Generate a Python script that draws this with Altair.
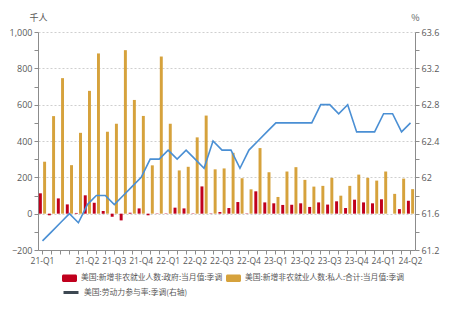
import altair as alt
import pandas as pd

# ---- data ----
months = [str(p) for p in pd.period_range("2020-11", "2024-04", freq="M")]  # 42 months

tick_months = ["2020-11", "2021-04", "2021-07", "2021-10", "2022-01", "2022-04", "2022-07",
               "2022-10", "2023-01", "2023-04", "2023-07", "2023-10", "2024-01", "2024-04"]
tick_labels = ["21-Q1", "21-Q2", "21-Q3", "21-Q4", "22-Q1", "22-Q2", "22-Q3",
               "22-Q4", "23-Q1", "23-Q2", "23-Q3", "23-Q4", "24-Q1", "24-Q2"]

gov = [112, -9, 84, 51, 4, 101, 60, 15, -17, -37, 5, 29, -9, -2, 2, 33, 29, 2, 150, 2, 9,
       31, 64, 2, 123, 62, 57, 48, 49, 57, 37, 62, 50, 68, 31, 77, 62, 57, 79, 0, 25, 71]
priv = [286, 537, 746, 267, 445, 676, 882, 451, 495, 900, 626, 538, 266, 865, 495, 238, 258,
        420, 540, 244, 249, 335, 195, 134, 361, 228, 92, 232, 256, 186, 149, 153, 197, 99,
        153, 215, 197, 182, 232, 109, 193, 135]
lfpr = [61.3, 61.4, 61.5, 61.6, 61.5, 61.7, 61.8, 61.8, 61.7, 61.8, 61.9, 62.0, 62.2, 62.2,
        62.3, 62.2, 62.3, 62.2, 62.1, 62.4, 62.3, 62.3, 62.1, 62.3, 62.4, 62.5, 62.6, 62.6,
        62.6, 62.6, 62.6, 62.8, 62.8, 62.7, 62.8, 62.5, 62.5, 62.5, 62.7, 62.7, 62.5, 62.6]

gov_name = "美国:新增非农就业人数:政府:当月值:季调"
priv_name = "美国:新增非农就业人数:私人:合计:当月值:季调"
line_name = "美国:劳动力参与率:季调(右轴)"

df_bar = pd.DataFrame({
    "month": months * 2,
    "series": [gov_name] * len(months) + [priv_name] * len(months),
    "value": gov + priv,
})
df_line = pd.DataFrame({"month": months, "rate": lfpr, "series": [line_name] * len(months)})

# ---- styling ----
TXT = "#595959"
AX = "#8c8c8c"
NUMFONT = "Open Sans"
CJK = "Noto Sans CJK SC"

lab_expr = (
    f"indexof({tick_months}, datum.value) >= 0 ? "
    f"{tick_labels}[indexof({tick_months}, datum.value)] : ''"
)

x_axis = alt.Axis(
    title=None, labelExpr=lab_expr, labelAngle=0, labelOverlap=False,
    labelFont=NUMFONT, labelFontSize=8.5, labelColor=TXT, labelPadding=2,
    tickSize=4, tickColor=AX, domainColor=AX, grid=False,
)
x_enc = alt.X("month:O", sort=months,
              scale=alt.Scale(domain=months, paddingInner=0.2, paddingOuter=0.1),
              axis=x_axis)

left_vals = list(range(-200, 1001, 100))
y_left_axis = alt.Axis(
    values=left_vals,
    labelExpr="datum.value % 200 == 0 ? format(datum.value, ',') : ''",
    grid=True, gridDash=[2, 2], gridColor="#cfcfcf",
    gridOpacity={"condition": {"test": "datum.value % 200 == 0", "value": 1}, "value": 0},
    domainColor=AX, tickColor=AX, tickSize=4,
    labelFont=NUMFONT, labelFontSize=9, labelColor=TXT, labelPadding=2,
    title="千人", titleAngle=0, titleX=0, titleY=-10, titleAlign="center",
    titleBaseline="bottom", titleFont=CJK, titleFontSize=9, titleFontWeight="normal",
    titleColor=TXT,
)

right_vals = [round(61.2 + 0.2 * i, 1) for i in range(13)]
y_right_axis = alt.Axis(
    orient="right", values=right_vals,
    labelExpr="abs((datum.value - 61.2) / 0.4 - round((datum.value - 61.2) / 0.4)) < 0.01 ? format(datum.value, '~g') : ''",
    grid=False, domainColor=AX, tickColor=AX, tickSize=4,
    labelFont=NUMFONT, labelFontSize=9, labelColor=TXT, labelPadding=2,
    title="%", titleAngle=0, titleX=0, titleY=-10, titleAlign="center",
    titleBaseline="bottom", titleFont=CJK, titleFontSize=9, titleFontWeight="normal",
    titleColor=TXT,
)

rect_path = ("M-0.8,-0.5 H0.8 A0.2,0.2 0 0 1 1,-0.3 V0.3 A0.2,0.2 0 0 1 0.8,0.5 "
             "H-0.8 A0.2,0.2 0 0 1 -1,0.3 V-0.3 A0.2,0.2 0 0 1 -0.8,-0.5 Z")

bars = alt.Chart(df_bar).mark_bar().encode(
    x=x_enc,
    xOffset=alt.XOffset("series:N", sort=[gov_name, priv_name],
                        scale=alt.Scale(domain=[gov_name, priv_name], paddingInner=0.3)),
    y=alt.Y("value:Q", scale=alt.Scale(domain=[-200, 1000], nice=False, zero=False),
            axis=y_left_axis),
    color=alt.Color("series:N",
                    scale=alt.Scale(domain=[gov_name, priv_name], range=["#C0001D", "#D6A23C"]),
                    legend=alt.Legend(
                        title=None, orient="none", legendX=24, legendY=238.5, columns=2,
                        columnPadding=3, symbolType=rect_path, symbolSize=225,
                        symbolStrokeWidth=0, labelFont=CJK, labelFontSize=7.8,
                        labelColor=TXT, labelOffset=4, labelLimit=300)),
)

y_right = alt.Y("rate:Q", scale=alt.Scale(domain=[61.2, 63.6], nice=False, zero=False),
                axis=y_right_axis)

line = alt.Chart(df_line).mark_line(color="#4A8FD4", strokeWidth=1.6).encode(
    x=x_enc, y=y_right,
)

ghost = alt.Chart(df_line).mark_line(opacity=0, strokeWidth=3).encode(
    x=x_enc, y=y_right,
    stroke=alt.Stroke("series:N", scale=alt.Scale(domain=[line_name], range=["#3D4852"]),
                      legend=alt.Legend(
                          title=None, orient="none", legendX=24, legendY=251.5,
                          symbolType="stroke", symbolSize=225, symbolStrokeWidth=3,
                          symbolOpacity=1, labelFont=CJK, labelFontSize=7.8,
                          labelColor=TXT, labelOffset=4, labelLimit=300)),
)

chart = alt.layer(bars, alt.layer(line, ghost)).resolve_scale(
    y="independent"
).properties(
    width=377, height=218,
    padding={"left": 38, "top": 32, "right": 39, "bottom": 66},
    autosize=alt.AutoSizeParams(type="none"),
    background="white",
).configure_view(stroke=None)

chart.save("out.html", embed_options={"renderer": "svg", "actions": False})
